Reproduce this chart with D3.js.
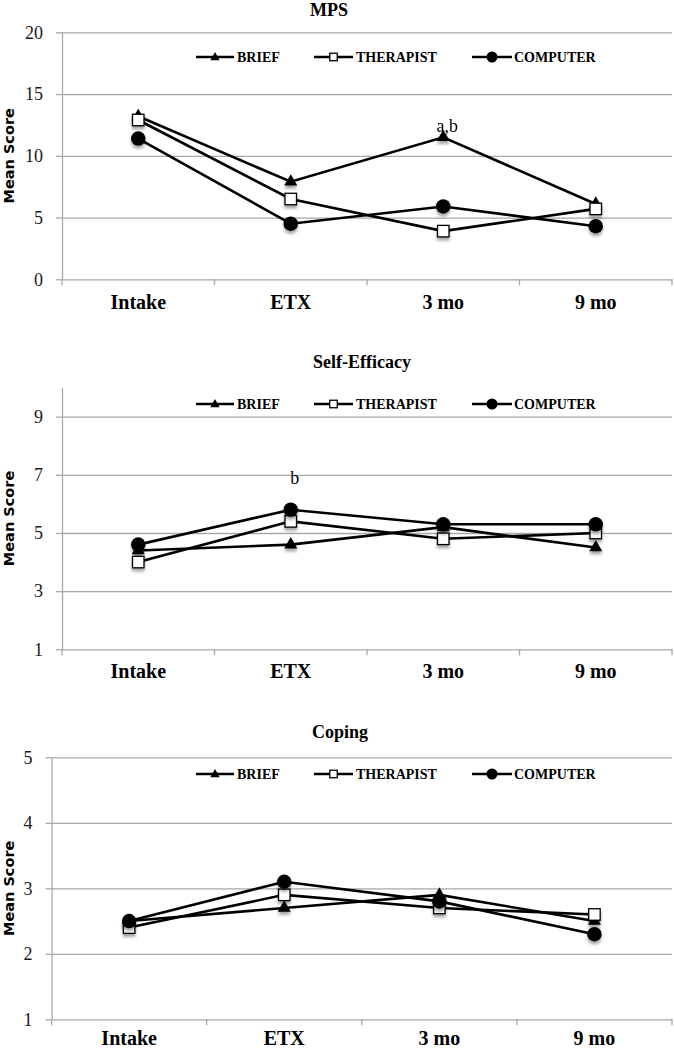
<!DOCTYPE html>
<html>
<head>
<meta charset="utf-8">
<script src="https://cdn.jsdelivr.net/npm/d3@7"></script>
<style>
body{margin:0;background:#fff;}
</style>
</head>
<body>
<div id="chart"></div>
<script>

// ---- data -------------------------------------------------------
const timepoints = ['Intake', 'ETX', '3 mo', '9 mo'];
const groups = ['BRIEF', 'THERAPIST', 'COMPUTER'];

const mpsBrief      = [13.2, 7.9, 11.5, 6.1];
const mpsTherapist  = [12.9, 6.5, 3.9, 5.7];
const mpsComputer   = [11.4, 4.5, 5.9, 4.3];

const efficacyBrief     = [4.4, 4.6, 5.2, 4.5];
const efficacyTherapist = [4.0, 5.4, 4.8, 5.0];
const efficacyComputer  = [4.6, 5.8, 5.3, 5.3];

const copingBrief     = [2.5, 2.7, 2.9, 2.5];
const copingTherapist = [2.4, 2.9, 2.7, 2.6];
const copingComputer  = [2.5, 3.1, 2.8, 2.3];

const mpsTicks = [0, 5, 10, 15, 20];
const efficacyTicks = [1, 3, 5, 7, 9];
const copingTicks = [1, 2, 3, 4, 5];

const mpsNotes = [{at: '3 mo', value: 11.9, text: 'a,b'}];
const efficacyNotes = [{at: 'ETX', value: 6.7, text: 'b'}];
const copingNotes = [];

// ---- layout -----------------------------------------------------
const W = 674, H = 1050;
const right = 672;
const serif = '"Liberation Serif", "Times New Roman", serif';

const panels = [
	{title: 'MPS', titleX: 329, titleY: 16, series: [mpsBrief, mpsTherapist, mpsComputer],
	 domain: [0, 20], ticks: mpsTicks, notes: mpsNotes,
	 left: 62, top: 32.3, bottom: 279.3, legendY: 57, labelY: 309},
	{title: 'Self-Efficacy', titleX: 362, titleY: 368, series: [efficacyBrief, efficacyTherapist, efficacyComputer],
	 domain: [1, 10], ticks: efficacyTicks, notes: efficacyNotes,
	 left: 62, top: 387.6, bottom: 649.3, legendY: 404, labelY: 678},
	{title: 'Coping', titleX: 340, titleY: 738, series: [copingBrief, copingTherapist, copingComputer],
	 domain: [1, 5], ticks: copingTicks, notes: copingNotes,
	 left: 51.6, top: 757.3, bottom: 1019.3, legendY: 774, labelY: 1045}
];

// legend item positions: line start, line end, text start
const legendPos = [[196, 234, 237], [314, 353, 356], [472, 512, 514]];

const svg = d3.select('#chart').append('svg')
	.attr('width', W)
	.attr('height', H)
	.style('background', '#fff');

const defs = svg.append('defs');
defs.append('filter')
	.attr('id', 'shadow')
	.attr('x', '-50%').attr('y', '-50%')
	.attr('width', '200%').attr('height', '220%')
	.append('feDropShadow')
	.attr('dx', 0).attr('dy', 3)
	.attr('stdDeviation', 1.8)
	.attr('flood-color', '#000')
	.attr('flood-opacity', 0.35);

const triangle = d3.symbol().type(d3.symbolTriangle);
const circle = d3.symbol().type(d3.symbolCircle);

function marker(g, k, x, y, big) {
	if (k === 0) {
		g.append('path')
			.attr('d', triangle.size(big ? 75 : 38)())
			.attr('transform', `translate(${x},${y + (big ? 0 : 0.5)})`)
			.attr('fill', '#000');
	} else if (k === 1) {
		const s = big ? 11.5 : 7.5;
		g.append('rect')
			.attr('x', x - s / 2).attr('y', y - s / 2)
			.attr('width', s).attr('height', s)
			.attr('fill', '#fff')
			.attr('stroke', '#000')
			.attr('stroke-width', 1.3);
	} else {
		g.append('path')
			.attr('d', circle.size(big ? 165 : 95)())
			.attr('transform', `translate(${x},${y})`)
			.attr('fill', '#000');
	}
}

panels.forEach(function(p) {

	const g = svg.append('g');

	const scaleX = d3.scaleBand()
		.domain(timepoints)
		.range([p.left, right])
		.padding(0);

	const scaleY = d3.scaleLinear()
		.domain(p.domain)
		.range([p.bottom, p.top]);

	// gridlines
	const grid = d3.axisLeft(scaleY)
		.tickValues(p.ticks.filter(t => t !== p.domain[0]))
		.tickSize(-(right - p.left))
		.tickFormat('');
	g.append('g')
		.attr('transform', `translate(${p.left},0)`)
		.call(grid)
		.call(s => s.select('.domain').remove())
		.selectAll('line')
		.attr('stroke', '#a8a8a8')
		.attr('stroke-width', 1.3);

	// y axis
	const axisY = d3.axisLeft(scaleY)
		.tickValues(p.ticks)
		.tickFormat(d3.format('d'))
		.tickSize(6)
		.tickPadding(13)
		.tickSizeOuter(0);
	const yNode = g.append('g')
		.attr('class', 'axis axis-y')
		.attr('transform', `translate(${p.left},0)`)
		.call(axisY);
	yNode.select('.domain').attr('stroke', '#a8a8a8').attr('stroke-width', 1.3);
	yNode.selectAll('line').attr('stroke', '#a8a8a8').attr('stroke-width', 1.3);
	yNode.selectAll('text')
		.attr('font-family', serif)
		.attr('font-size', 18)
		.attr('fill', '#1a1a1a');

	// x axis: labels at band centres, tick marks at band edges
	const axisX = d3.axisBottom(scaleX)
		.tickSize(0)
		.tickSizeOuter(0);
	const xNode = g.append('g')
		.attr('class', 'axis axis-x')
		.attr('transform', `translate(0,${p.bottom})`)
		.call(axisX);
	xNode.select('.domain').attr('stroke', '#a8a8a8').attr('stroke-width', 1.3);
	xNode.selectAll('text')
		.attr('y', p.labelY - p.bottom)
		.attr('dy', 0)
		.attr('font-family', serif)
		.attr('font-weight', 'bold')
		.attr('font-size', 20)
		.attr('fill', '#000');
	const edges = timepoints.map(t => scaleX(t)).concat([scaleX.range()[1]]);
	xNode.selectAll('.edge')
		.data(edges)
		.enter()
		.append('line')
		.attr('class', 'edge')
		.attr('x1', d => d).attr('x2', d => d)
		.attr('y1', 0).attr('y2', 6)
		.attr('stroke', '#a8a8a8')
		.attr('stroke-width', 1.3);

	// title
	g.append('text')
		.attr('x', p.titleX)
		.attr('y', p.titleY)
		.attr('text-anchor', 'middle')
		.attr('font-family', serif)
		.attr('font-weight', 'bold')
		.attr('font-size', 18)
		.text(p.title);

	// y label
	g.append('text')
		.attr('transform', `translate(14,${(p.top + p.bottom) / 2}) rotate(-90)`)
		.attr('text-anchor', 'middle')
		.attr('font-family', '"DejaVu Sans", sans-serif')
		.attr('font-weight', 'bold')
		.attr('font-size', 14.5)
		.text('Mean Score');

	// legend
	groups.forEach(function(name, k) {
		const [x1, x2, tx] = legendPos[k];
		const lg = g.append('g');
		lg.append('line')
			.attr('x1', x1).attr('x2', x2)
			.attr('y1', p.legendY).attr('y2', p.legendY)
			.attr('stroke', '#000')
			.attr('stroke-width', 2.6);
		marker(lg, k, (x1 + x2) / 2, p.legendY, false);
		lg.append('text')
			.attr('x', tx)
			.attr('y', p.legendY + 5)
			.attr('font-family', serif)
			.attr('font-weight', 'bold')
			.attr('font-size', 14)
			.text(name);
	});

	// lines
	const line = d3.line()
		.x((d, i) => scaleX(timepoints[i]) + scaleX.bandwidth() / 2)
		.y(d => scaleY(d));

	g.selectAll('.series')
		.data(p.series)
		.enter()
		.append('path')
		.attr('class', 'series')
		.attr('d', line)
		.attr('fill', 'none')
		.attr('stroke', '#000')
		.attr('stroke-width', 2.6);

	// markers
	p.series.forEach(function(vals, k) {
		const mg = g.append('g').attr('filter', 'url(#shadow)');
		vals.forEach(function(v, i) {
			marker(mg, k, scaleX(timepoints[i]) + scaleX.bandwidth() / 2, scaleY(v), true);
		});
	});

	// significance notes
	p.notes.forEach(function(n) {
		g.append('text')
			.attr('x', scaleX(n.at) + scaleX.bandwidth() / 2 + 4)
			.attr('y', scaleY(n.value))
			.attr('text-anchor', 'middle')
			.attr('font-family', serif)
			.attr('font-size', 18)
			.text(n.text);
	});
});

</script>
</body>
</html>
